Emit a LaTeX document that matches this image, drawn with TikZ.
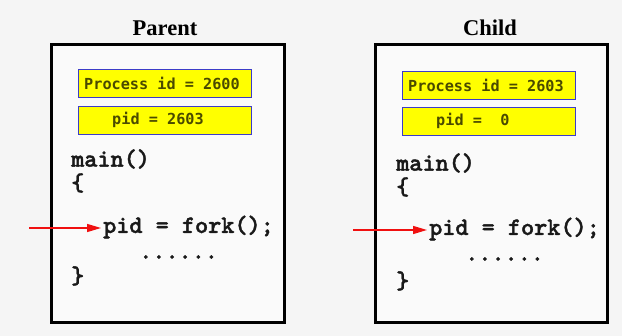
\documentclass[tikz,border=0pt]{standalone}
\usepackage{fontspec}
\setmainfont{Liberation Serif}
\newfontfamily\boxfont{DejaVu Sans Mono}
\newfontfamily\codefont{lmmonolt10-bold.otf}[FakeBold=1.6]
\usetikzlibrary{arrows.meta}
\definecolor{bgray}{HTML}{F5F5F5}
\definecolor{framefill}{HTML}{FAFAFA}
\definecolor{pidyellow}{HTML}{FFFF00}
\definecolor{pidblue}{HTML}{3C3CC8}
\definecolor{pidtext}{HTML}{4A4A00}
\definecolor{arrowred}{HTML}{F01010}
\begin{document}
\begin{tikzpicture}[x=1pt,y=-1pt,
  title/.style={font=\bfseries\fontsize{22.5}{25}\selectfont, inner sep=0pt},
  frame/.style={draw=black, line width=2.8pt, fill=framefill},
  pidbox/.style={draw=pidblue, line width=1.4pt, fill=pidyellow, inner sep=0pt},
  pidlabel/.style={anchor=west, inner sep=0pt, text=pidtext,
    font=\boxfont\bfseries\fontsize{15.2}{17}\selectfont},
  code/.style={anchor=west, inner sep=0pt, text=black!90,
    font=\codefont\fontsize{25}{27}\selectfont},
  callarrow/.style={draw=arrowred, line width=1.3pt,
    -{Triangle[length=14pt,width=8pt]}, shorten >=2pt}
]
  \fill[bgray] (0,0) rectangle (622,336);
  \useasboundingbox (0,0) rectangle (622,336);

  % ---------------- parent process ----------------
  \node[title] (ptitle) at (165,28) {Parent};
  \node[frame, minimum width=233pt, minimum height=278pt, anchor=north west, inner sep=0pt]
    (pframe) at (50,43) {};
  \node[pidbox, minimum width=173pt, minimum height=28pt, anchor=north west]
    (pbox1) at (78,69) {};
  \node[pidlabel] (pbox1text) at (84,83) {Process id = 2600};
  \node[pidbox, minimum width=173pt, minimum height=28pt, anchor=north west]
    (pbox2) at (78,106) {};
  \node[pidlabel] (pbox2text) at (112,120) {pid = 2603};
  \node[code] (pmain) at (71,159) {main()};
  \node[code] (popen) at (71,183) {\{};
  \node[code] (pfork) at (103,227) {pid = fork();};
  \node[code] (pdots) at (139,257) {......};
  \node[code] (pclose) at (71,276) {\}};
  \coordinate (pstart) at (29,228);
  \draw[callarrow] (pstart) -- (pfork.west |- pstart);

  % ---------------- child process ----------------
  \node[title] (ctitle) at (490,28) {Child};
  \node[frame, minimum width=232pt, minimum height=278pt, anchor=north west, inner sep=0pt]
    (cframe) at (374,43) {};
  \node[pidbox, minimum width=173pt, minimum height=28pt, anchor=north west]
    (cbox1) at (402,71) {};
  \node[pidlabel] (cbox1text) at (408,85) {Process id = 2603};
  \node[pidbox, minimum width=173pt, minimum height=28pt, anchor=north west]
    (cbox2) at (402,107) {};
  \node[pidlabel] (cbox2text) at (436,121) {pid =\ \ 0};
  \node[code] (cmain) at (396,163) {main()};
  \node[code] (copen) at (396,187) {\{};
  \node[code] (cfork) at (429,229) {pid = fork();};
  \node[code] (cdots) at (465,259) {......};
  \node[code] (cclose) at (396,281) {\}};
  \coordinate (cstart) at (353,230);
  \draw[callarrow] (cstart) -- (cfork.west |- cstart);
\end{tikzpicture}
\end{document}
